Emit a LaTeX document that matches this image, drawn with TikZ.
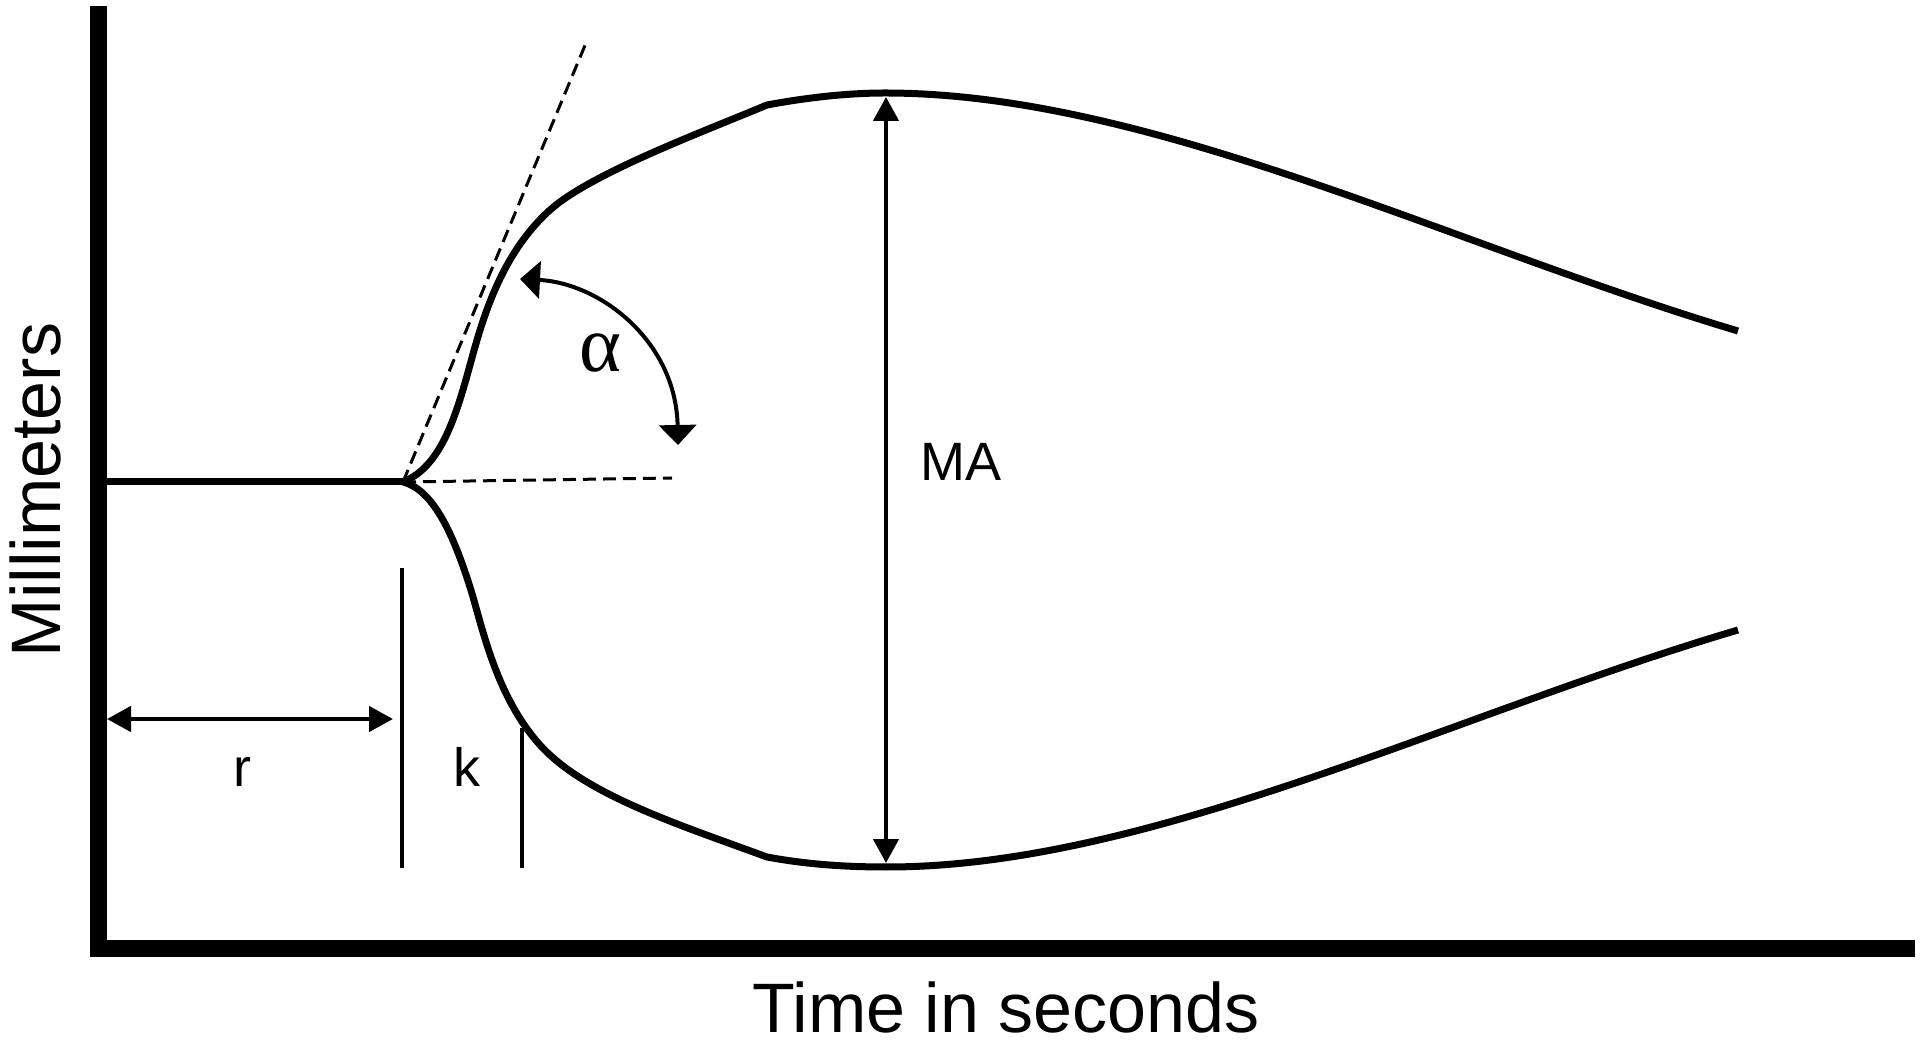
\documentclass[tikz,border=0pt]{standalone}
\usepackage{fontspec}
\setmainfont{Liberation Sans}
\newfontfamily\greekfont{Liberation Serif}
\usetikzlibrary{arrows.meta}
\begin{document}
\begin{tikzpicture}[x=1pt, y=1pt,
axis/.style={line width=17pt, line join=miter},
trace/.style={line width=7pt, line join=round},
guide/.style={line width=3pt, dash pattern=on 13pt off 7pt},
dimline/.style={line width=4.5pt, {Triangle[length=24pt,width=25pt]}-{Triangle[length=24pt,width=25pt]}},
arcline/.style={line width=4pt, {Triangle[length=20pt,width=37pt]}-{Triangle[length=20pt,width=37pt]}},
kline/.style={line width=3.5pt},
marktext/.style={font=\fontsize{54}{60}\selectfont, inner sep=0pt},
axistext/.style={font=\fontsize{70}{80}\selectfont, inner sep=0pt},
]
\useasboundingbox (0,0) rectangle (1920,1045);

%Points
\coordinate (top)    at (98,1039);
\coordinate (corner) at (98,97);
\coordinate (right)  at (1915,97);
\coordinate (start)  at (98,563);
\coordinate (onset)  at (403,563);
\coordinate (tanend) at (586,1002);
\coordinate (horend) at (672,567);
\coordinate (upmax)  at (885,952);
\coordinate (lowmin) at (887,178);
\coordinate (upend)  at (1738,714);
\coordinate (lowend) at (1738,415);
\coordinate (peak)   at (886,948);
\coordinate (trough) at (886,182);
\coordinate (rleft)  at (107,326);
\coordinate (rright) at (393,326);
\coordinate (ktop)   at (402,477);
\coordinate (kbot)   at (402,177);
\coordinate (kktop)  at (522,317);
\coordinate (kkbot)  at (522,177);
\coordinate (alphaA) at (520,766);
\coordinate (alphaB) at (678,600);

%Axes
\draw[axis] (top) -- (corner) -- (right);

%Traces
\draw[trace] (start) -- (onset);
\draw[trace] (onset) .. controls (440,578) and (455,625) .. (470,680)
  .. controls (482,724) and (500,790) .. (550,835)
  .. controls (590,871) and (700,912) .. (767,940)
  .. controls (810,948) and (850,952) .. (upmax)
  .. controls (1150,952) and (1450,800) .. (upend);
\draw[trace] (onset) .. controls (435,555) and (455,505) .. (470,458)
  .. controls (482,420) and (495,350) .. (540,300)
  .. controls (585,250) and (680,220) .. (767,188)
  .. controls (810,180) and (850,178) .. (lowmin)
  .. controls (1150,178) and (1450,330) .. (lowend);

%Guides
\draw[guide] (onset) -- (tanend);
\draw[guide] (onset) -- (horend);
\draw[arcline] (alphaA) .. controls (600,762) and (676,704) .. (alphaB);
\draw[dimline] (peak) -- (trough);
\draw[dimline] (rleft) -- (rright);
\draw[kline] (ktop) -- (kbot);
\draw[kline] (kktop) -- (kkbot);

%Labels
\node[marktext, anchor=base] (rlabel) at (242,258) {r};
\node[marktext, anchor=base] (klabel) at (467,258) {k};
\node[marktext, anchor=base west] (malabel) at (920,564) {MA};
\node[font=\greekfont\fontsize{80}{90}\selectfont, inner sep=0pt] (alphalabel) at (600,692) {α};
\node[axistext, anchor=base] (timelabel) at (1006,13) {Time in seconds};
\node[axistext, rotate=90, anchor=base] (mmlabel) at (60,555) {Millimeters};
\end{tikzpicture}
\end{document}
